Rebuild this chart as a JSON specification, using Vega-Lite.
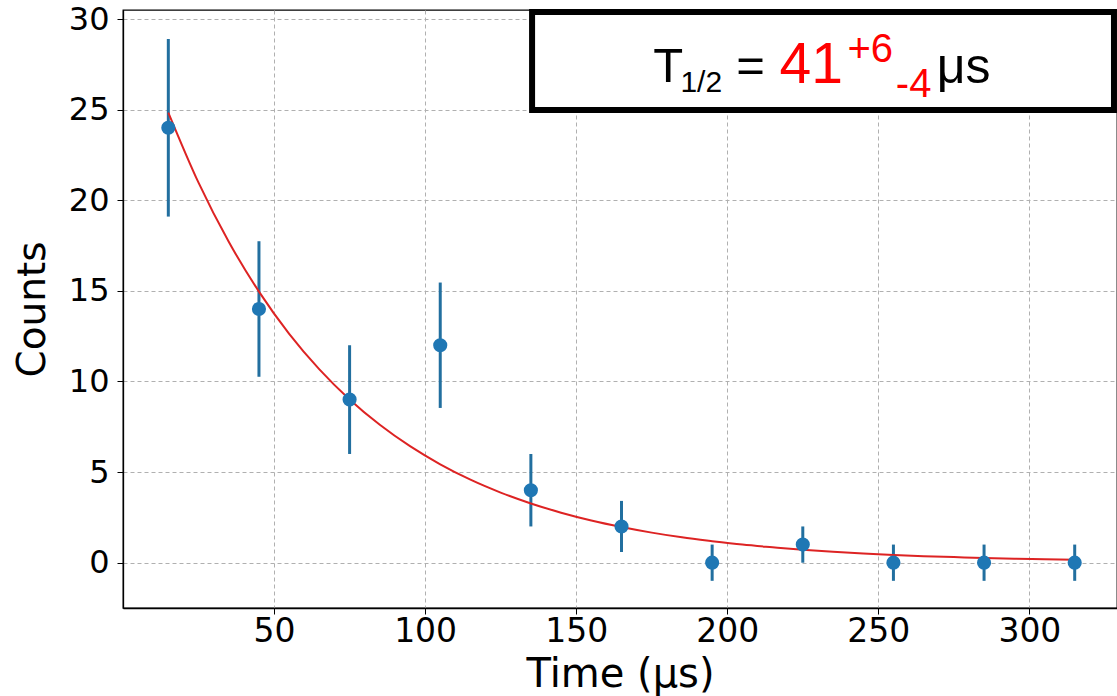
{
  "$schema": "https://vega.github.io/schema/vega-lite/v6.json",
  "width": 994,
  "height": 598,
  "autosize": {"type": "none"},
  "padding": {"left": 123, "top": 10, "right": 0, "bottom": 88},
  "background": "white",
  "config": {
    "view": {"stroke": "black", "strokeWidth": 1.3},
    "font": "DejaVu Sans"
  },
  "datasets": {
    "pts": [
      {"t": 15, "counts": 24, "lo": 19.1, "hi": 28.9},
      {"t": 45, "counts": 14, "lo": 10.26, "hi": 17.74},
      {"t": 75, "counts": 9, "lo": 6.0, "hi": 12.0},
      {"t": 105, "counts": 12, "lo": 8.54, "hi": 15.46},
      {"t": 135, "counts": 4, "lo": 2.0, "hi": 6.0},
      {"t": 165, "counts": 2, "lo": 0.59, "hi": 3.41},
      {"t": 195, "counts": 0, "lo": -1, "hi": 1},
      {"t": 225, "counts": 1, "lo": 0, "hi": 2},
      {"t": 255, "counts": 0, "lo": -1, "hi": 1},
      {"t": 285, "counts": 0, "lo": -1, "hi": 1},
      {"t": 315, "counts": 0, "lo": -1, "hi": 1}
    ],
    "fit": [
      {"t": 15, "y": 24.84}, {"t": 25, "y": 20.97}, {"t": 35, "y": 17.71},
      {"t": 45, "y": 14.96}, {"t": 55, "y": 12.63}, {"t": 65, "y": 10.67},
      {"t": 75, "y": 9.01}, {"t": 85, "y": 7.61}, {"t": 95, "y": 6.43},
      {"t": 105, "y": 5.43}, {"t": 115, "y": 4.58}, {"t": 125, "y": 3.87},
      {"t": 135, "y": 3.27}, {"t": 145, "y": 2.76}, {"t": 155, "y": 2.33},
      {"t": 165, "y": 1.97}, {"t": 175, "y": 1.66}, {"t": 185, "y": 1.40},
      {"t": 195, "y": 1.19}, {"t": 205, "y": 1.00}, {"t": 215, "y": 0.85},
      {"t": 225, "y": 0.71}, {"t": 235, "y": 0.60}, {"t": 245, "y": 0.51},
      {"t": 255, "y": 0.43}, {"t": 265, "y": 0.36}, {"t": 275, "y": 0.31},
      {"t": 285, "y": 0.26}, {"t": 295, "y": 0.22}, {"t": 305, "y": 0.19},
      {"t": 315, "y": 0.16}
    ],
    "one": [{}]
  },
  "layer": [
    {
      "data": {"name": "pts"},
      "mark": {"type": "rule", "strokeWidth": 3, "color": "#226f9f"},
      "encoding": {
        "x": {
          "field": "t", "type": "quantitative",
          "scale": {"domain": [0, 329], "nice": false, "zero": false},
          "axis": {
            "title": "Time (μs)",
            "values": [50, 100, 150, 200, 250, 300],
            "grid": true, "gridColor": "#b0b0b0", "gridDash": [4, 3], "gridWidth": 1, "gridOpacity": 1,
            "domainColor": "black", "domainWidth": 1.3,
            "tickColor": "black", "tickSize": 6, "tickWidth": 1,
            "labelFont": "DejaVu Sans", "labelFontSize": 33, "labelColor": "black", "labelPadding": 1,
            "titleFont": "DejaVu Sans", "titleFontSize": 40, "titleFontWeight": "normal", "titleColor": "black", "titlePadding": 6
          }
        },
        "y": {
          "field": "lo", "type": "quantitative",
          "scale": {"domain": [-2.5, 30.5], "nice": false, "zero": false},
          "axis": {
            "title": "Counts",
            "values": [0, 5, 10, 15, 20, 25, 30],
            "grid": true, "gridColor": "#b0b0b0", "gridDash": [4, 3], "gridWidth": 1, "gridOpacity": 1,
            "domainColor": "black", "domainWidth": 1.3,
            "tickColor": "black", "tickSize": 6, "tickWidth": 1,
            "labelFont": "DejaVu Sans", "labelFontSize": 32, "labelColor": "black", "labelPadding": 8,
            "titleFont": "DejaVu Sans", "titleFontSize": 39, "titleFontWeight": "normal", "titleColor": "black", "titlePadding": 16
          }
        },
        "y2": {"field": "hi"}
      }
    },
    {
      "data": {"name": "fit"},
      "mark": {"type": "line", "color": "#dd2323", "strokeWidth": 2, "interpolate": "monotone"},
      "encoding": {
        "x": {"field": "t", "type": "quantitative"},
        "y": {"field": "y", "type": "quantitative"}
      }
    },
    {
      "data": {"name": "pts"},
      "mark": {"type": "point", "shape": "circle", "filled": true, "size": 200, "color": "#1f77b4", "opacity": 1},
      "encoding": {
        "x": {"field": "t", "type": "quantitative"},
        "y": {"field": "counts", "type": "quantitative"}
      }
    },
    {
      "data": {"name": "one"},
      "mark": {"type": "rect", "fill": "white", "stroke": "black", "strokeWidth": 6},
      "encoding": {
        "x": {"datum": 135.4, "type": "quantitative"},
        "x2": {"datum": 328.0},
        "y": {"datum": 30.39, "type": "quantitative"},
        "y2": {"datum": 24.98}
      }
    },
    {
      "data": {"name": "one"},
      "mark": {"type": "text", "text": "T", "font": "Liberation Sans", "fontSize": 49, "color": "black", "align": "left", "baseline": "alphabetic"},
      "encoding": {
        "x": {"datum": 175.5, "type": "quantitative"},
        "y": {"datum": 26.53, "type": "quantitative"}
      }
    },
    {
      "data": {"name": "one"},
      "mark": {"type": "text", "text": "1/2", "font": "Liberation Sans", "fontSize": 30, "color": "black", "align": "left", "baseline": "alphabetic"},
      "encoding": {
        "x": {"datum": 184.5, "type": "quantitative"},
        "y": {"datum": 25.98, "type": "quantitative"}
      }
    },
    {
      "data": {"name": "one"},
      "mark": {"type": "text", "text": "=", "font": "Liberation Sans", "fontSize": 49, "color": "black", "align": "left", "baseline": "alphabetic"},
      "encoding": {
        "x": {"datum": 203.0, "type": "quantitative"},
        "y": {"datum": 26.53, "type": "quantitative"}
      }
    },
    {
      "data": {"name": "one"},
      "mark": {"type": "text", "text": "41", "font": "Liberation Sans", "fontSize": 57, "color": "#ff0000", "align": "left", "baseline": "alphabetic"},
      "encoding": {
        "x": {"datum": 217.3, "type": "quantitative"},
        "y": {"datum": 26.47, "type": "quantitative"}
      }
    },
    {
      "data": {"name": "one"},
      "mark": {"type": "text", "text": "+6", "font": "Liberation Sans", "fontSize": 40, "color": "#ff0000", "align": "left", "baseline": "alphabetic"},
      "encoding": {
        "x": {"datum": 239.8, "type": "quantitative"},
        "y": {"datum": 27.63, "type": "quantitative"}
      }
    },
    {
      "data": {"name": "one"},
      "mark": {"type": "text", "text": "-4", "font": "Liberation Sans", "fontSize": 40, "color": "#ff0000", "align": "left", "baseline": "alphabetic"},
      "encoding": {
        "x": {"datum": 255.8, "type": "quantitative"},
        "y": {"datum": 25.69, "type": "quantitative"}
      }
    },
    {
      "data": {"name": "one"},
      "mark": {"type": "text", "text": "μs", "font": "Liberation Sans", "fontSize": 50, "color": "black", "align": "left", "baseline": "alphabetic"},
      "encoding": {
        "x": {"datum": 269.3, "type": "quantitative"},
        "y": {"datum": 26.47, "type": "quantitative"}
      }
    }
  ]
}
